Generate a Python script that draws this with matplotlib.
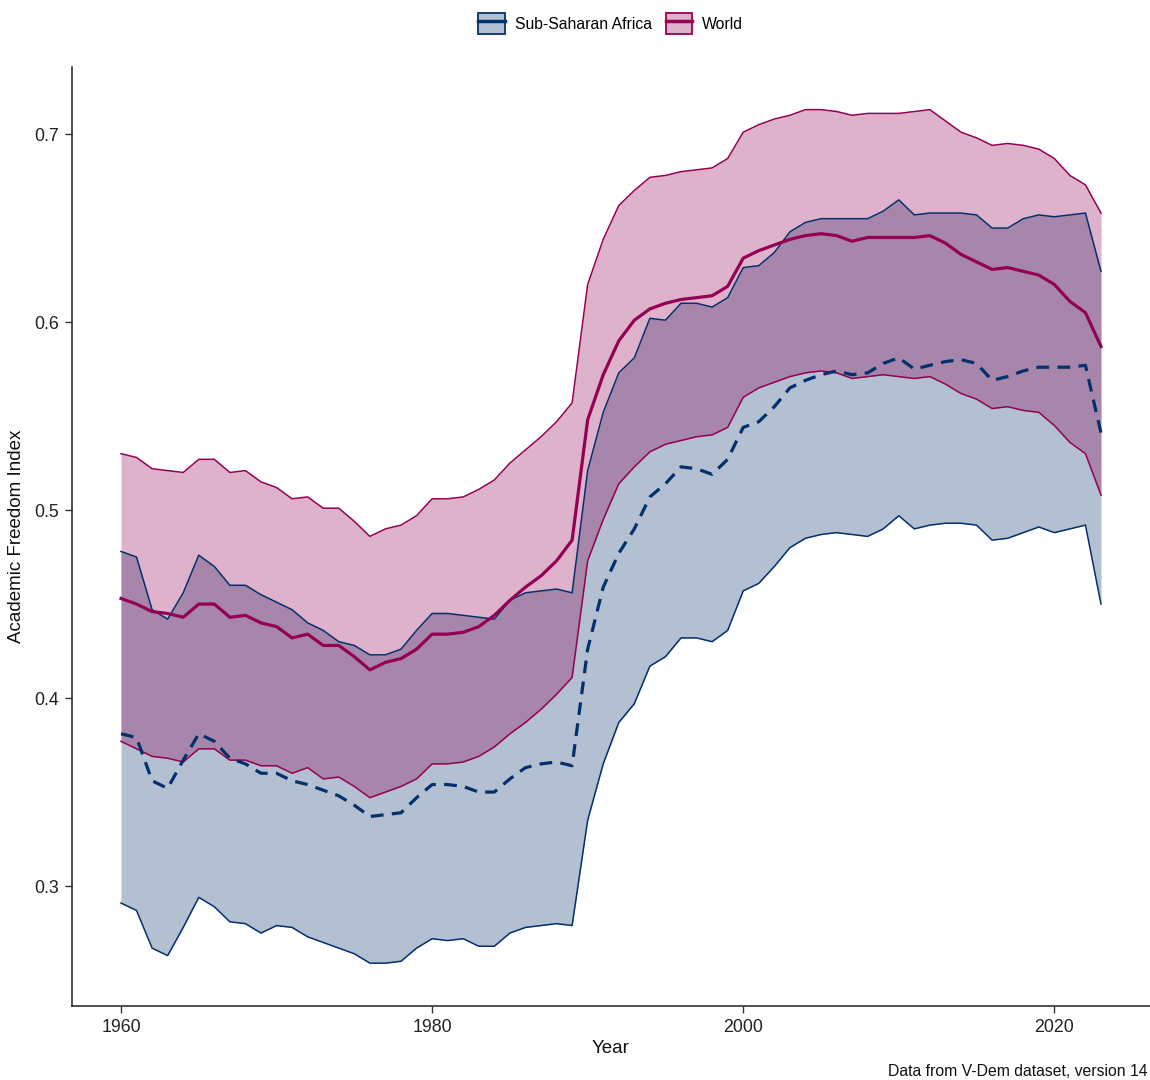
import matplotlib
matplotlib.use("Agg")
import matplotlib.pyplot as plt
from matplotlib.patches import Patch
from matplotlib.lines import Line2D
from matplotlib.colors import to_rgba

plt.rcParams['font.family'] = ['Liberation Sans', 'DejaVu Sans']

years = list(range(1960, 2024))

# Sub-Saharan Africa: mean and band
ssa_mean = [0.381, 0.379, 0.356, 0.352, 0.367, 0.381, 0.377, 0.368, 0.365, 0.360,
            0.360, 0.356, 0.354, 0.351, 0.348, 0.343, 0.337, 0.338, 0.339, 0.347,
            0.354, 0.354, 0.353, 0.350, 0.350, 0.357, 0.363, 0.365, 0.366, 0.364,
            0.426, 0.459, 0.477, 0.490, 0.507, 0.514, 0.523, 0.522, 0.519, 0.527,
            0.544, 0.547, 0.555, 0.565, 0.569, 0.572, 0.574, 0.572, 0.573, 0.578,
            0.581, 0.575, 0.577, 0.579, 0.580, 0.578, 0.569, 0.571, 0.574, 0.576,
            0.576, 0.576, 0.577, 0.541]
ssa_low = [0.291, 0.287, 0.267, 0.263, 0.278, 0.294, 0.289, 0.281, 0.280, 0.275,
           0.279, 0.278, 0.273, 0.270, 0.267, 0.264, 0.259, 0.259, 0.260, 0.267,
           0.272, 0.271, 0.272, 0.268, 0.268, 0.275, 0.278, 0.279, 0.280, 0.279,
           0.335, 0.365, 0.387, 0.397, 0.417, 0.422, 0.432, 0.432, 0.430, 0.436,
           0.457, 0.461, 0.470, 0.480, 0.485, 0.487, 0.488, 0.487, 0.486, 0.490,
           0.497, 0.490, 0.492, 0.493, 0.493, 0.492, 0.484, 0.485, 0.488, 0.491,
           0.488, 0.490, 0.492, 0.450]
ssa_high = [0.478, 0.475, 0.447, 0.442, 0.456, 0.476, 0.470, 0.460, 0.460, 0.455,
            0.451, 0.447, 0.440, 0.436, 0.430, 0.428, 0.423, 0.423, 0.426, 0.436,
            0.445, 0.445, 0.444, 0.443, 0.442, 0.452, 0.456, 0.457, 0.458, 0.456,
            0.521, 0.552, 0.573, 0.581, 0.602, 0.601, 0.610, 0.610, 0.608, 0.613,
            0.629, 0.630, 0.637, 0.648, 0.653, 0.655, 0.655, 0.655, 0.655, 0.659,
            0.665, 0.657, 0.658, 0.658, 0.658, 0.657, 0.650, 0.650, 0.655, 0.657,
            0.656, 0.657, 0.658, 0.627]

# World: mean and band
world_mean = [0.453, 0.450, 0.446, 0.445, 0.443, 0.450, 0.450, 0.443, 0.444, 0.440,
              0.438, 0.432, 0.434, 0.428, 0.428, 0.422, 0.415, 0.419, 0.421, 0.426,
              0.434, 0.434, 0.435, 0.438, 0.444, 0.452, 0.459, 0.465, 0.473, 0.484,
              0.548, 0.572, 0.590, 0.601, 0.607, 0.610, 0.612, 0.613, 0.614, 0.619,
              0.634, 0.638, 0.641, 0.644, 0.646, 0.647, 0.646, 0.643, 0.645, 0.645,
              0.645, 0.645, 0.646, 0.642, 0.636, 0.632, 0.628, 0.629, 0.627, 0.625,
              0.620, 0.611, 0.605, 0.587]
world_low = [0.377, 0.373, 0.369, 0.368, 0.366, 0.373, 0.373, 0.367, 0.367, 0.364,
             0.364, 0.360, 0.363, 0.357, 0.358, 0.353, 0.347, 0.350, 0.353, 0.357,
             0.365, 0.365, 0.366, 0.369, 0.374, 0.381, 0.387, 0.394, 0.402, 0.411,
             0.473, 0.495, 0.514, 0.523, 0.531, 0.535, 0.537, 0.539, 0.540, 0.544,
             0.560, 0.565, 0.568, 0.571, 0.573, 0.574, 0.573, 0.570, 0.571, 0.572,
             0.571, 0.570, 0.571, 0.567, 0.562, 0.559, 0.554, 0.555, 0.553, 0.552,
             0.545, 0.536, 0.530, 0.508]
world_high = [0.530, 0.528, 0.522, 0.521, 0.520, 0.527, 0.527, 0.520, 0.521, 0.515,
              0.512, 0.506, 0.507, 0.501, 0.501, 0.494, 0.486, 0.490, 0.492, 0.497,
              0.506, 0.506, 0.507, 0.511, 0.516, 0.525, 0.532, 0.539, 0.547, 0.557,
              0.620, 0.644, 0.662, 0.670, 0.677, 0.678, 0.680, 0.681, 0.682, 0.687,
              0.701, 0.705, 0.708, 0.710, 0.713, 0.713, 0.712, 0.710, 0.711, 0.711,
              0.711, 0.712, 0.713, 0.707, 0.701, 0.698, 0.694, 0.695, 0.694, 0.692,
              0.687, 0.678, 0.673, 0.658]

ssa_color = '#02306C'
world_color = '#940054'
fill_alpha = 0.3

fig = plt.figure(figsize=(11.5, 10.8), dpi=100)
ax = fig.add_axes([0.0626, 0.0685, 0.9374, 0.8695])

# ribbons: SSA first, World on top
ax.fill_between(years, ssa_low, ssa_high, color=ssa_color, alpha=fill_alpha, lw=0)
ax.plot(years, ssa_low, color=ssa_color, lw=1.1)
ax.plot(years, ssa_high, color=ssa_color, lw=1.1)
ax.fill_between(years, world_low, world_high, color=world_color, alpha=fill_alpha, lw=0)
ax.plot(years, world_low, color=world_color, lw=1.1)
ax.plot(years, world_high, color=world_color, lw=1.1)

# means
ax.plot(years, ssa_mean, color=ssa_color, lw=2.3, dashes=(4, 2.6))
ax.plot(years, world_mean, color=world_color, lw=2.3)

ax.set_xlim(1956.85, 2026.15)
ax.set_ylim(0.2362, 0.7357)
ax.set_xticks([1960, 1980, 2000, 2020])
ax.set_yticks([0.3, 0.4, 0.5, 0.6, 0.7])
ax.set_yticklabels(['0.3', '0.4', '0.5', '0.6', '0.7'])

for side in ['top', 'right']:
    ax.spines[side].set_visible(False)
for side in ['left', 'bottom']:
    ax.spines[side].set_linewidth(1.1)
    ax.spines[side].set_color('#222222')
ax.tick_params(axis='both', labelsize=12.8, colors='#333333', length=5, width=1.0,
               labelcolor='#222222', pad=4)

ax.set_xlabel('Year', fontsize=13.5, color='#111111', labelpad=3)
ax.set_ylabel('Academic Freedom Index', fontsize=13.5, color='#111111', labelpad=7)

# legend with filled keys and line inside
handles = [
    (Patch(facecolor=to_rgba(ssa_color, fill_alpha), edgecolor=ssa_color, lw=1.3),
     Line2D([], [], color=ssa_color, lw=2.5)),
    (Patch(facecolor=to_rgba(world_color, fill_alpha), edgecolor=world_color, lw=1.3),
     Line2D([], [], color=world_color, lw=2.5)),
]
fig.legend(handles, ['Sub-Saharan Africa', 'World'], loc='center',
           bbox_to_anchor=(0.531, 0.978), ncol=2, frameon=False, fontsize=11.3,
           handlelength=1.7, handleheight=1.7, columnspacing=0.9, handletextpad=0.6)

fig.text(0.998, 0.008, 'Data from V-Dem dataset, version 14', fontsize=11.3,
         ha='right', va='center', color='#111111')

fig.savefig('out.png', dpi=100)
